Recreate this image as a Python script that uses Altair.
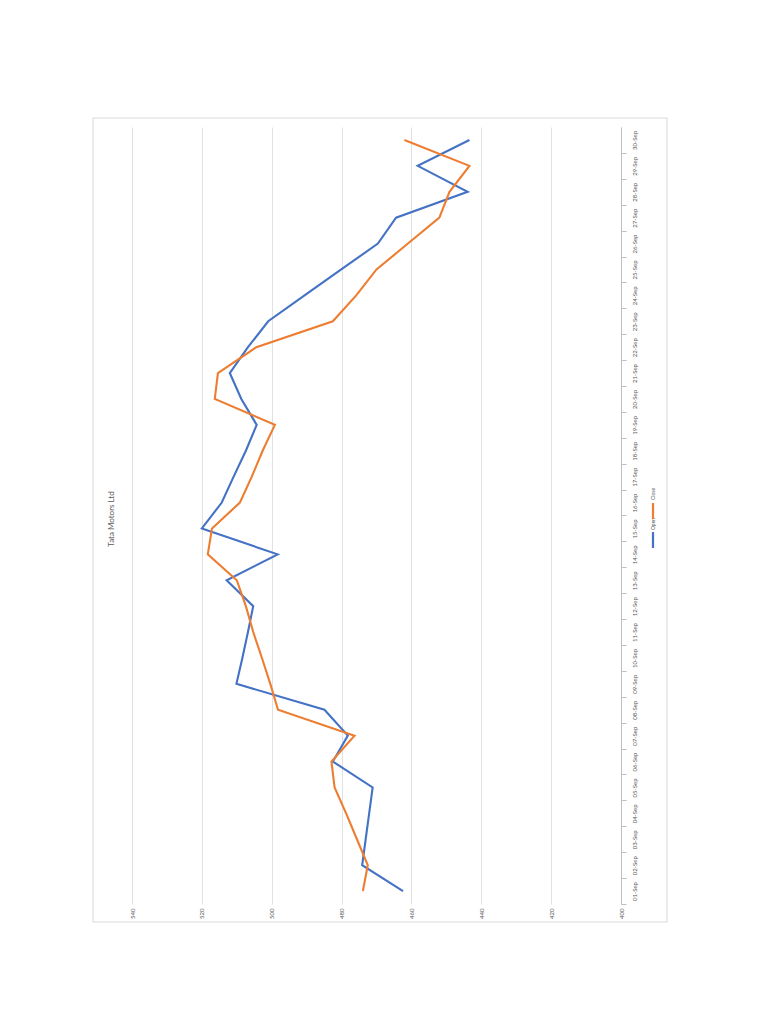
import altair as alt
import pandas as pd

# ---- data ----
dates = ["01-Sep", "02-Sep", "03-Sep", "04-Sep", "05-Sep", "06-Sep", "07-Sep", "08-Sep",
         "09-Sep", "10-Sep", "11-Sep", "12-Sep", "13-Sep", "14-Sep", "15-Sep", "16-Sep",
         "17-Sep", "18-Sep", "19-Sep", "20-Sep", "21-Sep", "22-Sep", "23-Sep", "24-Sep",
         "25-Sep", "26-Sep", "27-Sep", "28-Sep", "29-Sep", "30-Sep"]
open_vals = [462.4, 474.1, 473.1, 472.1, 471.1, 482.5, 478.2, 484.9, 510.1, 508.4,
             506.8, 505.3, 512.9, 498.3, 520.0, 514.3, 510.9, 507.4, 504.3, 508.7,
             512.0, 506.8, 501.0, 490.6, 480.1, 469.6, 464.4, 443.9, 458.2, 443.4]
close_vals = [473.9, 472.5, 475.6, 478.7, 482.0, 482.9, 476.3, 498.2, 500.4, 502.8,
              505.3, 507.4, 510.0, 518.3, 517.1, 509.1, 505.7, 502.6, 499.1, 516.3,
              515.4, 504.4, 482.5, 475.8, 470.0, 461.0, 452.0, 449.1, 443.4, 462.0]
series_names = ["Open", "Close"]
series_colors = ["#4472C4", "#ED7D31"]
price_ticks = [400, 420, 440, 460, 480, 500, 520, 540]
chart_title = "Tata Motors Ltd"

rows = []
for i, d in enumerate(dates):
    rows.append({"date": d, "idx": i, "series": series_names[0], "price": open_vals[i]})
    rows.append({"date": d, "idx": i, "series": series_names[1], "price": close_vals[i]})
df = pd.DataFrame(rows)

FONT = "Lato"
TXT = "#595959"
GRID = "#d9d9d9"

lines = alt.Chart(df).mark_line(strokeWidth=2.1).encode(
    x=alt.X("price:Q",
            scale=alt.Scale(domain=[400, 540], reverse=True, nice=False, zero=False),
            axis=alt.Axis(values=price_ticks, orient="bottom", labelAngle=270,
                          labelAlign="right", labelBaseline="middle", labelFontSize=6,
                          labelColor=TXT, labelFont=FONT, labelPadding=4, ticks=False,
                          domain=False, grid=True, gridColor=GRID, gridWidth=0.8,
                          title=None)),
    y=alt.Y("date:O", sort=dates,
            scale=alt.Scale(type="band", paddingInner=0, paddingOuter=0, reverse=True),
            axis=alt.Axis(orient="right", labelAngle=270, labelAlign="center",
                          labelBaseline="middle", labelPadding=8, tickSize=5,
                          tickBand="extent", domainColor="#bfbfbf", tickColor="#bfbfbf",
                          grid=False, title=None, labelFontSize=6, labelColor=TXT,
                          labelFont=FONT, labelOverlap=False)),
    color=alt.Color("series:N", scale=alt.Scale(domain=series_names, range=series_colors),
                    legend=None),
    order=alt.Order("idx:Q"),
)

one = pd.DataFrame({"k": [0]})

border = alt.Chart(one).mark_rect(fillOpacity=0, stroke=GRID, strokeWidth=1).encode(
    x=alt.value(-39), x2=alt.value(535), y=alt.value(-9), y2=alt.value(795))

title = alt.Chart(pd.DataFrame({"t": [chart_title]})).mark_text(
    angle=270, fontSize=8, color=TXT, font=FONT, align="center", baseline="middle"
).encode(x=alt.value(-20), y=alt.value(392), text="t:N")

leg_df = pd.DataFrame({"name": series_names})
leg_open_sw = alt.Chart(one).mark_rule(strokeWidth=2.2, color=series_colors[0]).encode(
    x=alt.value(521), y=alt.value(405), y2=alt.value(421))
leg_open_tx = alt.Chart(leg_df.iloc[[0]]).mark_text(
    angle=270, fontSize=5, color=TXT, font=FONT, align="center", baseline="middle"
).encode(x=alt.value(521), y=alt.value(397), text="name:N")
leg_close_sw = alt.Chart(one).mark_rule(strokeWidth=2.2, color=series_colors[1]).encode(
    x=alt.value(521), y=alt.value(376), y2=alt.value(392))
leg_close_tx = alt.Chart(leg_df.iloc[[1]]).mark_text(
    angle=270, fontSize=5, color=TXT, font=FONT, align="center", baseline="middle"
).encode(x=alt.value(521), y=alt.value(367), text="name:N")

chart = alt.layer(
    border, lines, title, leg_open_sw, leg_open_tx, leg_close_sw, leg_close_tx
).properties(
    width=489, height=777,
    background="white",
    autosize=alt.AutoSizeParams(type="none"),
    padding={"left": 124, "top": 119, "right": 90, "bottom": 50},
).configure_view(strokeWidth=0, stroke="transparent")

chart.save("out.html", embed_options={"renderer": "svg", "actions": False})
